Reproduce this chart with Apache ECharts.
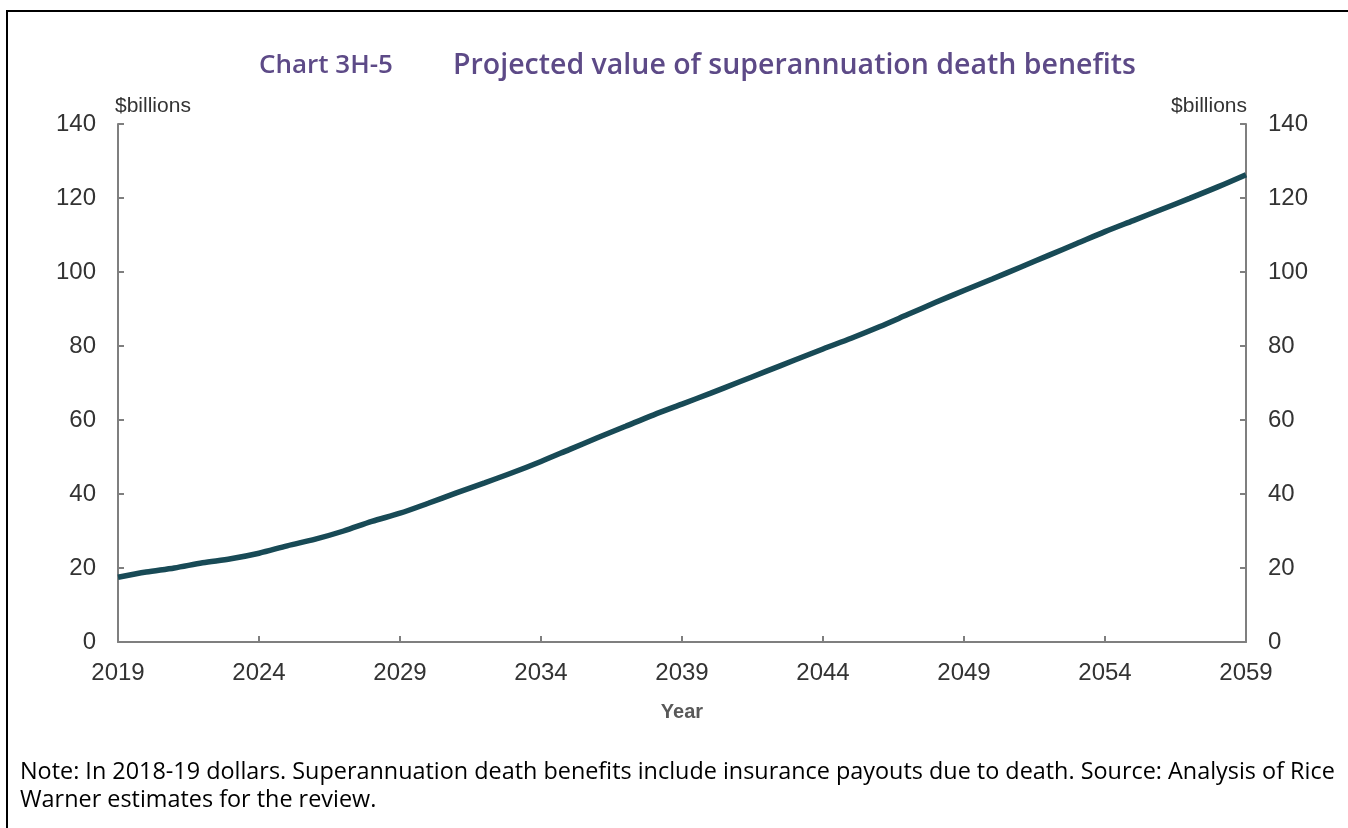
<!DOCTYPE html>
<html><head><meta charset="utf-8">
<script src="https://cdn.jsdelivr.net/npm/echarts@6/dist/echarts.min.js"></script>
<style>html,body{margin:0;padding:0;background:#fff}#c{width:1348px;height:828px}</style>
</head><body><div id="c"></div>
<script>
const years = [];
for (let y = 2019; y <= 2059; y++) years.push(String(y));
const deathBenefits = [17.5,18.9,20.0,21.4,22.5,24.0,26.0,27.8,30.0,32.6,34.8,37.5,40.3,43.0,45.8,48.8,52.0,55.2,58.3,61.4,64.3,67.2,70.2,73.2,76.2,79.2,82.1,85.2,88.5,91.8,95.0,98.1,101.3,104.5,107.7,110.9,113.9,116.9,119.9,123.0,126.3];
const yTicks = [0,20,40,60,80,100,120,140];
const titleLeft = 'Chart 3H-5';
const titleRight = 'Projected value of superannuation death benefits';
const noteLine1 = 'Note: In 2018-19 dollars. Superannuation death benefits include insurance payouts due to death. Source: Analysis of Rice';
const noteLine2 = 'Warner estimates for the review.';

const tickFont = "'Liberation Sans','Arial',sans-serif";
const axisGrey = '#7f7f7f';
const labelColor = '#333333';

const chart = echarts.init(document.getElementById('c'));
function yAxisCfg(pos){
  return {
    type:'value', position:pos, min:yTicks[0], max:yTicks[yTicks.length-1], interval:20,
    name:'$billions', nameLocation:'end', nameGap:7,
    nameTextStyle:{fontFamily:tickFont, fontSize:21, color:labelColor, align: pos==='left'?'left':'right', padding: pos==='left'?[0,0,0,-3]:[0,-1,0,0]},
    axisLine:{show:true, lineStyle:{color:axisGrey, width:2}},
    axisTick:{show:true, inside:true, length:6, lineStyle:{color:axisGrey, width:2}},
    axisLabel:{fontFamily:tickFont, fontSize:24, color:labelColor, margin:22},
    splitLine:{show:false}
  };
}
chart.setOption({
  animation:false,
  backgroundColor:'#fff',
  grid:{left:118, right:102, top:124, bottom:186},
  xAxis:{
    type:'category', data:years, boundaryGap:false,
    name:'Year', nameLocation:'middle', nameGap:60,
    nameTextStyle:{fontFamily:tickFont, fontSize:20, fontWeight:'bold', color:'#595959'},
    axisLine:{lineStyle:{color:axisGrey, width:2}},
    axisTick:{show:true, inside:true, length:6, interval:4, alignWithLabel:true, lineStyle:{color:axisGrey, width:2}},
    axisLabel:{interval:4, fontFamily:tickFont, fontSize:24, color:labelColor, margin:19}
  },
  yAxis:[yAxisCfg('left'), yAxisCfg('right')],
  series:[{
    type:'line', data:deathBenefits, yAxisIndex:0, smooth:0.3, symbol:'none',
    lineStyle:{color:'#184a56', width:5.5}
  }],
  graphic:[
    {type:'rect', shape:{x:7, y:11, width:1400, height:900}, style:{fill:'none', stroke:'#000', lineWidth:2}, silent:true},
    {type:'text', left:259, top:53, style:{text:titleLeft, font:"600 26px 'Open Sans', sans-serif", fill:'#5d4a87'}},
    {type:'text', left:453, top:51, style:{text:titleRight, font:"600 28.5px 'Open Sans', sans-serif", fill:'#5d4a87'}},
    {type:'text', left:20, top:761, style:{text:noteLine1, font:"23.4px 'Open Sans', sans-serif", fill:'#000'}},
    {type:'text', left:20, top:789, style:{text:noteLine2, font:"23.4px 'Open Sans', sans-serif", fill:'#000'}}
  ]
});
</script></body></html>
